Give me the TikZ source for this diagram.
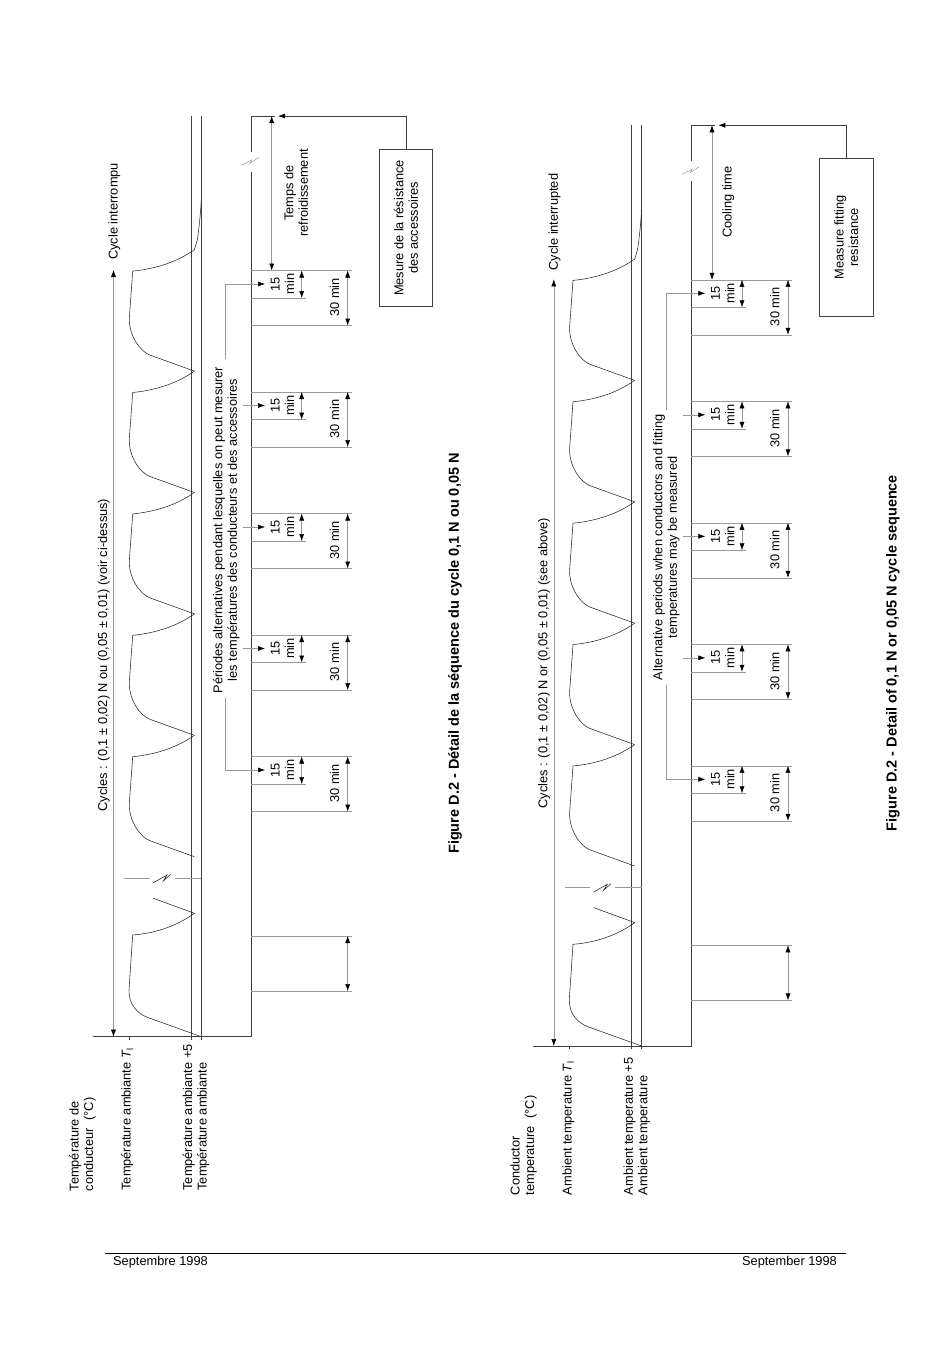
\documentclass[tikz,border=0pt]{standalone}
\usepackage{fontspec}
\setmainfont{Liberation Sans}
\usetikzlibrary{arrows.meta}
\usetikzlibrary{positioning}
\tikzset{
	axisline/.style={black!75, line width=0.7pt},
	tempcurve/.style={black!85, line width=0.55pt},
	thinline/.style={black!40, line width=0.5pt},
	dimline/.style={black!40, line width=0.5pt, {Latex[black,length=7pt,width=5pt]}-{Latex[black,length=7pt,width=5pt]}},
	pointer/.style={black!40, line width=0.5pt, -{Latex[black,length=7pt,width=5pt]}},
	vlabel/.style={rotate=90, inner sep=0pt, align=center, font=\fontsize{12.8}{14.5}\selectfont},
	hlabel/.style={inner sep=0pt, font=\fontsize{12.8}{14}\selectfont},
	caption/.style={rotate=90, inner sep=0pt, font=\fontsize{14.5}{16}\selectfont\bfseries},
	mesurebox/.style={draw=black!75, line width=0.7pt, rotate=90, minimum width=157.4pt, minimum height=53.2pt, inner sep=0pt, align=center, font=\fontsize{12.8}{14.5}\selectfont}
}
\begin{document}
\begin{tikzpicture}[x=1pt, y=-1pt]
	\useasboundingbox (0,0) rectangle (950,1345);

	\foreach \sx/\sy/\ptr/\ptrtop/\ptrbot in {0/0/225.3/359/698.3, 440.3/9.3/226.2/400.7/675.7} {
		\begin{scope}[xshift=\sx pt, yshift=-\sy pt]
			\draw[axisline] (93,1036.7) -- (251,1036.7) -- (251,172);
			\draw[axisline] (251,152) -- (251,116) -- (274.5,116);
			\draw[thinline] (241.7,165) -- (251.7,160) -- (250,163.3) -- (259,157.3);
			\draw[axisline] (191.5,116) -- (191.5,1040);
			\draw[axisline] (201.5,116) -- (201.5,1040);
			\draw[axisline] (129.5,1036.7) -- (129.5,1040);
			\draw[dimline] (113.5,1036.7) -- (113.5,270);
			\draw[dimline] (271.7,116) -- (271.7,270.5);

			\draw[tempcurve] (201.3,1036.7) -- (148.3,1017.7) .. controls (138,1014) and (128.6,1005) .. (129,990) -- (132.7,935) .. controls (158,933) and (178,925) .. (194.4,913.3) -- (153.3,898.3);
			\foreach \q in {856.7,735.3,613.9,492.5,371.1} {
				\draw[tempcurve] (194.4,\q) -- (150,\q-16) .. controls (140,\q-19.5) and (128.8,\q-36) .. (129.3,\q-53) -- (132.7,\q-100) .. controls (158,\q-102.5) and (178,\q-110) .. (194.4,\q-121.4);
			}
			\draw[tempcurve] (194.4,249.7) -- (197.3,240) .. controls (199,228) and (200.5,215) .. (201.3,200);

			\draw[thinline] (124.3,878.3) -- (150,878.3);
			\draw[thinline] (175,878.3) -- (201.3,878.3);
			\draw[tempcurve] (153.3,882.7) -- (167,875) -- (163.3,881) -- (170.7,874.3);

			\draw[thinline] (251,936) -- (352,936);
			\draw[thinline] (251,991) -- (352,991);
			\draw[dimline] (347.7,936) -- (347.7,991);

			\foreach \t [count=\k] in {270.5,392,513.5,635,756.5} {
				\draw[thinline] (251,\t) -- (352,\t);
				\draw[thinline] (251,\t+27.5) -- (306,\t+27.5);
				\draw[thinline] (251,\t+55) -- (352,\t+55);
				\draw[dimline] (301.7,\t) -- (301.7,\t+27.5);
				\draw[dimline] (347.7,\t) -- (347.7,\t+55);
				\node[vlabel] (fifteen\k) at (282.5,\t+13.5) {15\\min};
				\node[vlabel] (thirty\k) at (334.5,\t+27) {30 min};
			}
			\draw[pointer] (\ptr,\ptrtop) -- (\ptr,284) -- (265,284);
			\draw[pointer] (\ptr,\ptrbot) -- (\ptr,770) -- (265,770);
			\draw[pointer] (242.5,405.5) -- (265,405.5);
			\draw[pointer] (242.5,527) -- (265,527);
			\draw[pointer] (242.5,648.5) -- (265,648.5);
		\end{scope}
	}

	\begin{scope}
		\node[vlabel] (cycles) at (103.7,655) {Cycles : (0,1 ± 0,02) N ou (0,05 ± 0,01) (voir ci-dessus)};
		\node[vlabel, anchor=west] (interrompu) at (114.2,260) {Cycle interrompu};
		\node[vlabel] (periodes) at (226.3,530) {Périodes alternatives pendant lesquelles on peut mesurer\\les températures des conducteurs et des accessoires};
		\node[vlabel] (refroid) at (296,193) {Temps de\\refroidissement};
		\node[mesurebox] (mesure) at (406,228) {Mesure de la résistance\\des accessoires};
		\coordinate (coolend) at (278,116);
		\draw[axisline, -{Latex[black,length=7pt,width=5pt]}] (mesure.east) |- (coolend);
		\node[vlabel, anchor=west, align=left] (conducteur) at (82.5,1191.5) {Température de\\conducteur\hspace{7.5pt}(°C)};
		\node[vlabel, anchor=west] (ambiantel) at (127.3,1190.7) {Température ambiante \textit{T}\textsubscript{l}};
		\node[vlabel, anchor=west, align=left] (ambiante) at (196,1190.7) {Température ambiante +5\\Température ambiante};
		\node[caption] (figfr) at (455,653.5) {Figure D.2 - Détail de la séquence du cycle 0,1 N ou 0,05 N};
	\end{scope}

	\begin{scope}[xshift=440.3pt, yshift=-9.3pt]
		\node[vlabel] (cyclesen) at (103.7,653.7) {Cycles : (0,1 ± 0,02) N or (0,05 ± 0,01) (see above)};
		\node[vlabel, anchor=west] (interrupted) at (114.2,261.4) {Cycle interrupted};
		\node[vlabel] (periods) at (226,538) {Alternative periods when conductors and fitting\\temperatures may be measured};
		\node[vlabel] (cooling) at (288,192.7) {Cooling time};
		\node[mesurebox] (measure) at (406,228) {Measure fitting\\resistance};
		\coordinate (coolendb) at (278,116);
		\draw[axisline, -{Latex[black,length=7pt,width=5pt]}] (measure.east) |- (coolendb);
		\node[vlabel, anchor=west, align=left] (conductor) at (83.2,1186) {Conductor\\temperature\hspace{7.5pt}(°C)};
		\node[vlabel, anchor=west] (ambientl) at (127.9,1186) {Ambient temperature \textit{T}\textsubscript{l}};
		\node[vlabel, anchor=west, align=left] (ambient) at (196.5,1186) {Ambient temperature +5\\Ambient temperature};
	\end{scope}

	\node[caption] (figen) at (893,653) {Figure D.2 - Detail of 0,1 N or 0,05 N cycle sequence};

	\draw[black, line width=0.7pt] (105,1253.5) -- (846,1253.5);
	\node[hlabel, anchor=west] (datefr) at (113,1262.5) {Septembre 1998};
	\node[hlabel, anchor=east] (dateen) at (837,1262.5) {September 1998};
\end{tikzpicture}
\end{document}
